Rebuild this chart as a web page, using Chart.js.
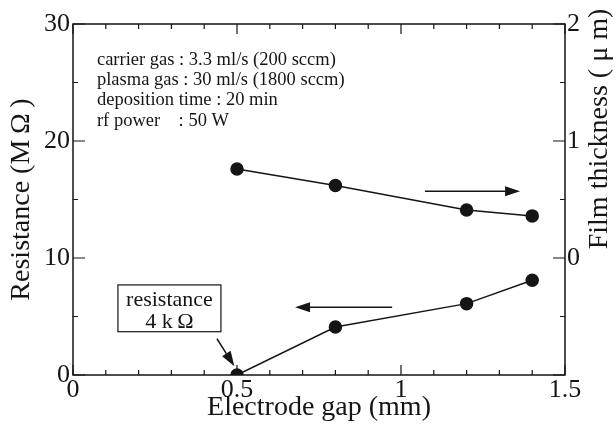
<!DOCTYPE html>
<html>
<head>
<meta charset="utf-8">
<script src="https://cdn.jsdelivr.net/npm/chart.js@4"></script>
<style>
  html, body { margin: 0; padding: 0; background: #fff; }
  #wrap { width: 616px; height: 431px; }
</style>
</head>
<body>
<div id="wrap"><canvas id="gapChart"></canvas></div>
<script>
// --- data ---
const gapMm = [0.5, 0.8, 1.2, 1.4];
const resistanceMOhm = [0, 4.1, 6.1, 8.1];
const thicknessUm = [0.76, 0.62, 0.41, 0.36];

const conditionLines = [
  'carrier gas : 3.3 ml/s (200 sccm)',
  'plasma gas : 30 ml/s (1800 sccm)',
  'deposition time : 20 min',
  'rf power    : 50 W'
];
const noteLines = ['resistance', '4 k\u2009\u03A9'];

const SERIF = '"Liberation Serif", "DejaVu Serif", serif';
const INK = '#151515';

// annotation arrows in data units: [x0, y0, x1, y1, axis] (head at x1,y1)
const arrows = [
  [1.073, 0.57, 1.363, 0.57, 'y1'],   // thickness -> right axis
  [0.973, 5.8, 0.677, 5.8, 'y'],      // resistance -> left axis
  [0.439, 3.1, 0.492, 0.75, 'y']      // note box -> 4 kOhm point
];

function majorX(v) { return Math.round(v * 10) % 5 === 0; }

// draws the frame and inward tick marks, plus the annotations
const decorations = {
  id: 'decorations',
  afterDatasetsDraw(chart) {
    const ctx = chart.ctx;
    const a = chart.chartArea;
    const sx = chart.scales.x, sy = chart.scales.y, sy1 = chart.scales.y1;
    ctx.save();
    ctx.strokeStyle = INK;
    ctx.lineWidth = 1.5;
    ctx.strokeRect(a.left, a.top, a.right - a.left, a.bottom - a.top);

    ctx.lineWidth = 1.2;
    ctx.beginPath();
    sx.ticks.forEach(t => {
      const px = sx.getPixelForValue(t.value);
      const len = majorX(t.value) ? 10 : 5;
      ctx.moveTo(px, a.bottom); ctx.lineTo(px, a.bottom - len);
      ctx.moveTo(px, a.top); ctx.lineTo(px, a.top + len);
    });
    sy.ticks.forEach(t => {
      const py = sy.getPixelForValue(t.value);
      const len = t.value % 10 === 0 ? 12 : 5;
      ctx.moveTo(a.left, py); ctx.lineTo(a.left + len, py);
    });
    sy1.ticks.forEach(t => {
      const py = sy1.getPixelForValue(t.value);
      const len = Number.isInteger(t.value) ? 12 : 5;
      ctx.moveTo(a.right, py); ctx.lineTo(a.right - len, py);
    });
    ctx.stroke();

    // arrows
    ctx.fillStyle = INK;
    ctx.lineWidth = 1.5;
    arrows.forEach(([x0, y0, x1, y1, ax]) => {
      const s = chart.scales[ax];
      const p0 = [sx.getPixelForValue(x0), s.getPixelForValue(y0)];
      const p1 = [sx.getPixelForValue(x1), s.getPixelForValue(y1)];
      const ang = Math.atan2(p1[1] - p0[1], p1[0] - p0[0]);
      const hl = 15, hw = 5;
      const bx = p1[0] - hl * Math.cos(ang), by = p1[1] - hl * Math.sin(ang);
      ctx.beginPath();
      ctx.moveTo(p0[0], p0[1]); ctx.lineTo(bx, by);
      ctx.stroke();
      ctx.beginPath();
      ctx.moveTo(p1[0], p1[1]);
      ctx.lineTo(bx + hw * Math.sin(ang), by - hw * Math.cos(ang));
      ctx.lineTo(bx - hw * Math.sin(ang), by + hw * Math.cos(ang));
      ctx.closePath();
      ctx.fill();
    });

    // note box
    const bx0 = sx.getPixelForValue(0.137), bx1 = sx.getPixelForValue(0.451);
    const by0 = sy.getPixelForValue(7.7), by1 = sy.getPixelForValue(3.7);
    ctx.lineWidth = 1.2;
    ctx.strokeRect(bx0, by0, bx1 - bx0, by1 - by0);
    ctx.font = '22px ' + SERIF;
    ctx.textAlign = 'center';
    ctx.textBaseline = 'middle';
    ctx.fillText(noteLines[0], (bx0 + bx1) / 2, sy.getPixelForValue(6.4));
    ctx.fillText(noteLines[1], (bx0 + bx1) / 2, sy.getPixelForValue(4.5));

    // experimental conditions
    ctx.font = '18.5px ' + SERIF;
    ctx.textAlign = 'left';
    const tx = sx.getPixelForValue(0.073);
    conditionLines.forEach((line, i) => {
      ctx.fillText(line, tx, a.top + 36 + i * 20.3);
    });

    // right axis title, reading bottom to top
    ctx.font = '28px ' + SERIF;
    ctx.textAlign = 'center';
    ctx.translate(600, a.top + 105);
    ctx.rotate(-Math.PI / 2);
    ctx.fillText('Film thickness ( \u03BC m)', 0, 0);
    ctx.restore();
  }
};

const tickFont = { family: SERIF, size: 26 };
const titleFont = { family: SERIF, size: 28 };

new Chart(document.getElementById('gapChart'), {
  type: 'line',
  data: {
    labels: gapMm,
    datasets: [
      {
        label: 'Resistance',
        data: gapMm.map((g, i) => ({ x: g, y: resistanceMOhm[i] })),
        yAxisID: 'y',
        borderColor: INK,
        backgroundColor: INK,
        borderWidth: 1.5,
        pointRadius: 6,
        pointHoverRadius: 6,
        tension: 0
      },
      {
        label: 'Film thickness',
        data: gapMm.map((g, i) => ({ x: g, y: thicknessUm[i] })),
        yAxisID: 'y1',
        borderColor: INK,
        backgroundColor: INK,
        borderWidth: 1.5,
        pointRadius: 6,
        pointHoverRadius: 6,
        tension: 0
      }
    ]
  },
  options: {
    responsive: true,
    maintainAspectRatio: false,
    animation: false,
    layout: { padding: { top: 24, left: 0, right: 0, bottom: 0 } },
    plugins: { legend: { display: false }, tooltip: { enabled: false } },
    scales: {
      x: {
        type: 'linear',
        min: 0, max: 1.5,
        grid: { display: false, drawTicks: false },
        border: { display: false },
        ticks: {
          stepSize: 0.1, autoSkip: false, maxRotation: 0, padding: 0,
          color: INK, font: tickFont,
          callback: v => majorX(v) ? String(Math.round(v * 10) / 10) : ''
        },
        title: { display: true, text: 'Electrode gap (mm)', color: INK, font: titleFont, padding: { bottom: 7 } },
        afterFit: s => { s.height = 56; }
      },
      y: {
        position: 'left',
        min: 0, max: 30,
        grid: { display: false, drawTicks: false },
        border: { display: false },
        ticks: {
          stepSize: 5, padding: 3, color: INK, font: tickFont,
          callback: v => v % 10 === 0 ? String(v) : ''
        },
        title: { display: true, text: 'Resistance (M\u2009\u03A9\u2009)', color: INK, font: titleFont, padding: { top: 5 } },
        afterFit: s => { s.width = 73; }
      },
      y1: {
        position: 'right',
        min: -1, max: 2,
        grid: { display: false, drawTicks: false },
        border: { display: false },
        ticks: {
          stepSize: 0.5, padding: 2, color: INK, font: tickFont,
          callback: v => (Number.isInteger(v) && v >= 0) ? String(v) : ''
        },
        afterFit: s => { s.width = 51; }
      }
    }
  },
  plugins: [decorations]
});
</script>
</body>
</html>
